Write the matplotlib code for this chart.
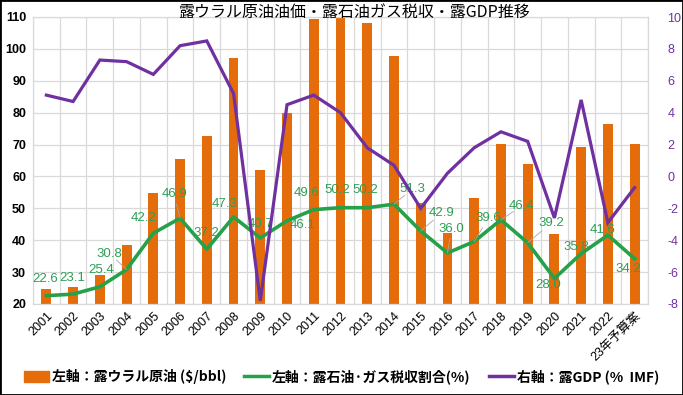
import matplotlib
matplotlib.use("Agg")
import matplotlib.pyplot as plt
from matplotlib.patches import Patch, Rectangle
from matplotlib.lines import Line2D
import numpy as np

plt.rcParams['font.family'] = ['Noto Sans CJK JP', 'DejaVu Sans']

# ---- data ----
categories = ["2001", "2002", "2003", "2004", "2005", "2006", "2007", "2008", "2009", "2010",
              "2011", "2012", "2013", "2014", "2015", "2016", "2017", "2018", "2019", "2020",
              "2021", "2022", "23年予算案"]
urals_price = [24.6, 25.3, 29.0, 38.4, 54.7, 65.4, 72.7, 97.2, 62.0, 79.9,
               109.3, 110.5, 108.1, 97.8, 51.8, 42.3, 53.1, 70.2, 63.9, 41.9,
               69.3, 76.4, 70.2]
tax_share = [22.6, 23.1, 25.4, 30.8, 42.2, 46.9, 37.2, 47.3, 40.7, 46.1,
             49.6, 50.2, 50.2, 51.3, 42.9, 36.0, 39.6, 46.4, 39.2, 28.0,
             35.8, 41.6, 34.2]
gdp_growth = [5.1, 4.7, 7.3, 7.2, 6.4, 8.2, 8.5, 5.2, -7.8, 4.5,
              5.1, 4.0, 1.8, 0.7, -2.0, 0.2, 1.8, 2.8, 2.2, -2.6,
              4.8, -2.9, -0.7]
left_ticks = [20, 30, 40, 50, 60, 70, 80, 90, 100, 110]
right_ticks = [-8, -6, -4, -2, 0, 2, 4, 6, 8, 10]

title = "露ウラル原油油価・露石油ガス税収・露GDP推移"
legend_labels = ["左軸：露ウラル原油 ($/bbl)", "左軸：露石油·ガス税収割合(%)", "右軸：露GDP (%  IMF)"]

# label offsets (pixels, dx right, dy up) for tax share data labels
label_offsets = [(-1, 17), (-1, 16), (1, 17), (-17, 16), (-10, 15), (-6, 24), (0, 16), (-9, 13),
                 (0, 14), (16, -4), (-7, 17), (-3, 18), (-2, 18), (18, 15), (21, 18), (4, 24),
                 (14, 23), (21, 14), (24, 20), (-6, -7), (-5, 7), (-5, 5), (-6, -10)]

# ---- style ----
c_bar = "#E46C0A"
c_green = "#25A249"
c_green_txt = "#2E9E56"
c_purple = "#7030A0"
c_grid = "#D9D9D9"

W, H = 683, 395
fig = plt.figure(figsize=(W / 100, H / 100), dpi=100)
ax1 = fig.add_axes([33 / W, 1 - 304 / H, (648 - 33) / W, (304 - 17) / H])
ax2 = ax1.twinx()

x = np.arange(len(categories))
ax1.bar(x, urals_price, width=0.37, color=c_bar, zorder=2)
ax1.plot(x, tax_share, color=c_green, lw=2.6, zorder=3, solid_joinstyle='round')

ax1.set_xlim(-0.5, len(categories) - 0.5)
ax1.set_ylim(20, 110)
ax1.set_yticks(left_ticks)
ax1.set_yticklabels([str(v) for v in left_ticks], fontsize=9, fontweight='bold',
                    family=['Liberation Sans', 'DejaVu Sans'])
ax1.set_xticks(x)
ax1.set_xticklabels(categories, rotation=45, ha='right', rotation_mode='anchor', fontsize=9,
                    family=['Liberation Sans', 'Noto Sans CJK JP'])
ax1.set_xticks(np.arange(-0.5, len(categories)), minor=True)
ax1.tick_params(axis='both', which='both', length=0)
ax1.tick_params(axis='x', pad=4)
ax1.tick_params(axis='y', pad=5)
ax1.grid(axis='y', which='major', color=c_grid, lw=0.9, zorder=0)
ax1.grid(axis='x', which='minor', color=c_grid, lw=0.9, zorder=0)
ax1.set_axisbelow(True)
for s in ax1.spines.values():
    s.set_color(c_grid)
    s.set_linewidth(0.9)

ax2.plot(x, gdp_growth, color=c_purple, lw=2.3, zorder=3, solid_joinstyle='miter')
ax2.set_ylim(-8, 10)
ax2.set_yticks(right_ticks)
ax2.set_yticklabels([str(v) for v in right_ticks], fontsize=9, color=c_purple,
                    family=['Liberation Sans', 'DejaVu Sans'])
ax2.tick_params(axis='y', length=0, pad=14)
for s in ax2.spines.values():
    s.set_visible(False)

# data labels on green line
for i, v in enumerate(tax_share):
    dx, dy = label_offsets[i]
    ax1.annotate(f"{v:.1f}", xy=(x[i], v), xytext=(dx * 0.72, dy * 0.72), textcoords='offset points',
                 ha='center', va='center', fontsize=9.5, color=c_green_txt,
                 family=['Liberation Sans', 'DejaVu Sans'], zorder=5)
    if (dx * dx + dy * dy) ** 0.5 > 19:
        ax1.annotate("", xy=(x[i], v), xytext=(dx * 0.72 * 0.6, dy * 0.72 * 0.6), textcoords='offset points',
                     arrowprops=dict(arrowstyle='-', color='#A6A6A6', lw=0.6, shrinkA=0, shrinkB=0), zorder=4)

fig.text(354 / W, 1 - 13 / H, title, ha='center', va='center', fontsize=11.5, color='black')

handles = [Patch(facecolor=c_bar, edgecolor=c_bar),
           Line2D([0], [0], color=c_green, lw=2.5),
           Line2D([0], [0], color=c_purple, lw=2.5)]
fig.legend(handles, legend_labels, loc='center', bbox_to_anchor=(0.5, 1 - 377 / H), ncol=3,
           frameon=False, prop={'size': 10, 'weight': 'bold'}, handlelength=1.8, handletextpad=0.2,
           columnspacing=1.3, handleheight=0.8)

fig.patches.append(Rectangle((0, 0), 1, 1, transform=fig.transFigure, fill=False,
                             edgecolor='black', lw=2, zorder=10))

fig.savefig("out.png", dpi=100)
